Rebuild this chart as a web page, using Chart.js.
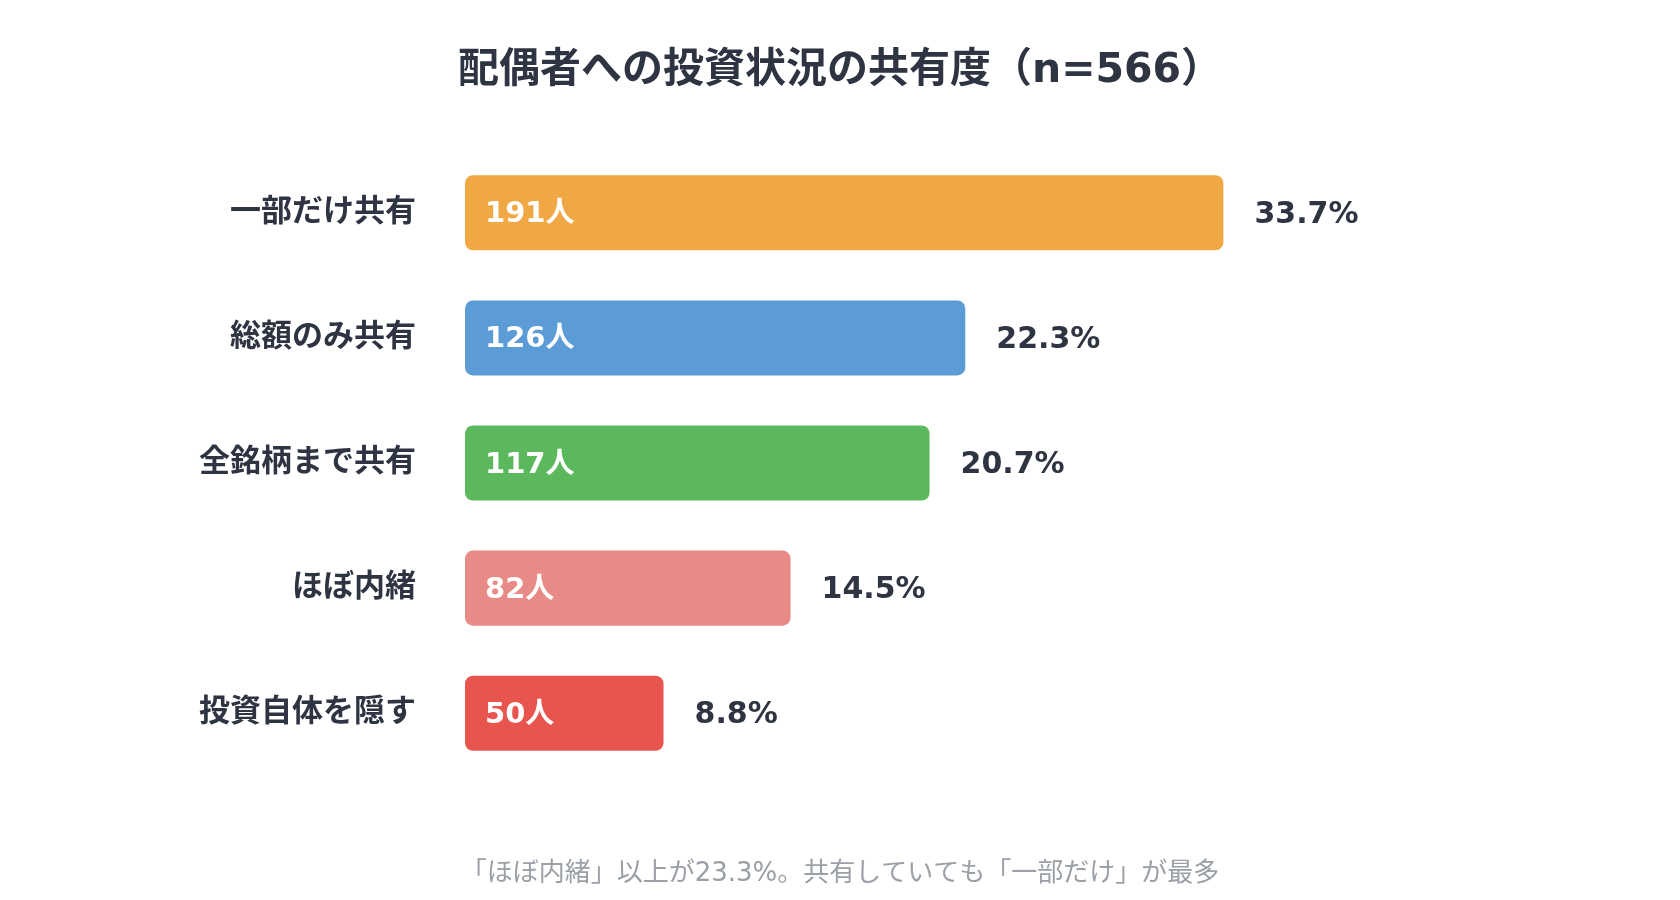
<!DOCTYPE html>
<html lang="ja">
<head>
<meta charset="utf-8">
<script src="https://cdn.jsdelivr.net/npm/chart.js@4.4.1/dist/chart.umd.min.js"></script>
<style>
  html, body { margin: 0; padding: 0; background: #ffffff; }
  #wrap { width: 1680px; height: 900px; }
</style>
</head>
<body>
<div id="wrap"><canvas id="share-chart"></canvas></div>
<script>
// data
const categories = ['一部だけ共有', '総額のみ共有', '全銘柄まで共有', 'ほぼ内緒', '投資自体を隠す'];
const counts = [191, 126, 117, 82, 50];
const percents = ['33.7%', '22.3%', '20.7%', '14.5%', '8.8%'];
const barColors = ['#F0A845', '#5B9BD6', '#5CB85C', '#E88A86', '#E8544E'];

// DejaVu for digits/latin (close to the Meiryo look), Noto CJK for Japanese
const FONT = "'DejaVu Sans', 'Noto Sans CJK JP', sans-serif";
const DARK = '#2E3441';

// labels inside (人数) and after (割合) each bar
const barLabels = {
  id: 'barLabels',
  afterDatasetsDraw(chart) {
    const ctx = chart.ctx;
    const meta = chart.getDatasetMeta(0);
    ctx.save();
    ctx.textBaseline = 'middle';
    meta.data.forEach((bar, i) => {
      ctx.textAlign = 'left';
      ctx.fillStyle = '#ffffff';
      ctx.font = 'bold 29px ' + FONT;
      ctx.fillText(counts[i] + '人', bar.base + 20, bar.y + 2);

      ctx.fillStyle = DARK;
      ctx.font = 'bold 30px ' + FONT;
      ctx.fillText(percents[i], bar.x + 31, bar.y + 2);
    });
    ctx.restore();
  }
};

const el = document.getElementById('share-chart');

new Chart(el, {
  type: 'bar',
  data: {
    labels: categories,
    datasets: [{
      data: counts,
      backgroundColor: barColors,
      borderRadius: 8,
      borderSkipped: false,
      barPercentage: 0.6,
      categoryPercentage: 1
    }]
  },
  options: {
    indexAxis: 'y',
    responsive: true,
    maintainAspectRatio: false,
    animation: false,
    layout: {
      padding: { left: 0, right: 0, top: 0, bottom: 10 }
    },
    plugins: {
      legend: { display: false },
      tooltip: { enabled: false },
      title: {
        display: true,
        text: '配偶者への投資状況の共有度（n=566）',
        color: DARK,
        font: { family: FONT, size: 41, weight: 'bold', lineHeight: 1.25 },
        padding: { top: 46, bottom: 53 }
      },
      subtitle: {
        display: true,
        position: 'bottom',
        text: '「ほぼ内緒」以上が23.3%。共有していても「一部だけ」が最多',
        color: '#9AA0A6',
        font: { family: FONT, size: 26, weight: 'normal', lineHeight: 1.2 },
        padding: { top: 83, bottom: 0 }
      }
    },
    scales: {
      x: {
        display: false,
        min: 0,
        max: 306
      },
      y: {
        afterFit: (scale) => { scale.width = 465; },
        grid: { display: false, drawTicks: false },
        border: { display: false },
        ticks: {
          color: DARK,
          padding: 49,
          font: { family: FONT, size: 31, weight: 'bold' }
        }
      }
    }
  },
  plugins: [barLabels]
});
</script>
</body>
</html>
